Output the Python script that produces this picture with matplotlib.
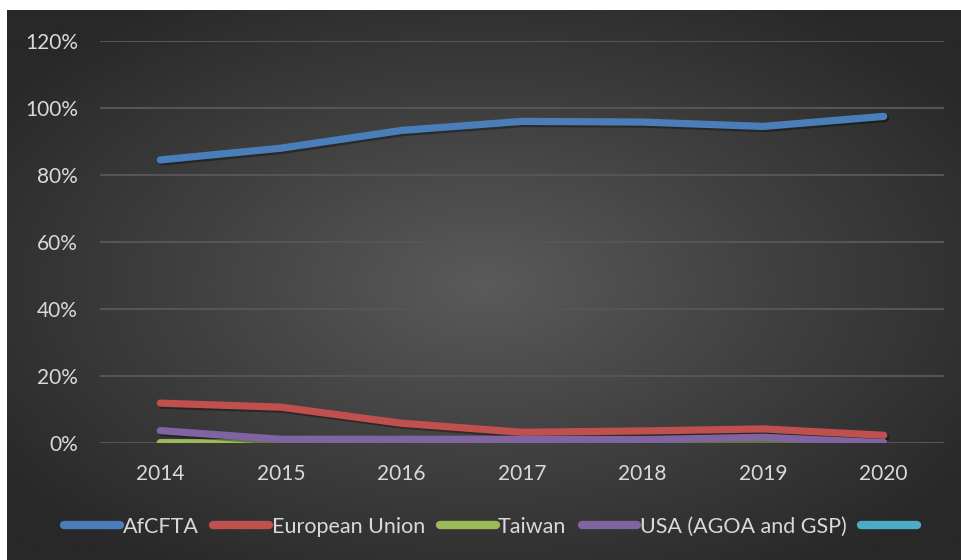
import numpy as np
import matplotlib

matplotlib.use("Agg")
import matplotlib.pyplot as plt  # noqa: E402
import matplotlib.patheffects as pe  # noqa: E402
from matplotlib.colors import LinearSegmentedColormap  # noqa: E402
from matplotlib.lines import Line2D  # noqa: E402
from matplotlib.ticker import PercentFormatter  # noqa: E402

plt.rcParams["font.family"] = ["Lato", "DejaVu Sans"]

years = ["2014", "2015", "2016", "2017", "2018", "2019", "2020"]
afcfta = [84.5, 88.0, 93.3, 96.0, 95.8, 94.5, 97.5]
european_union = [11.9, 10.7, 5.9, 3.2, 3.6, 4.2, 2.3]
taiwan = [0.1, 0.0, 0.0, 0.0, 0.0, 0.2, 0.0]
usa = [3.7, 1.1, 1.1, 1.1, 1.0, 1.7, 0.1]

series = [
    ("AfCFTA", afcfta, "#4a7ebb"),
    ("European Union", european_union, "#c0504d"),
    ("Taiwan", taiwan, "#9bbb59"),
    ("USA (AGOA and GSP)", usa, "#8064a2"),
    ("", [], "#4bacc6"),   # empty fifth series, legend key only
]

INK = "#d9d9d9"
W, H = 961, 560

fig = plt.figure(figsize=(W / 100, H / 100), dpi=100)
fig.patch.set_facecolor("white")

# radial dark-grey backdrop
bg = fig.add_axes([7 / W, 0, 1 - 7 / W, 1 - 10 / H])
bg.set_axis_off()
gx, gy = np.meshgrid(np.linspace(-1, 1, 480), np.linspace(-1, 1, 280))
r = np.clip(np.sqrt(gx ** 2 + gy ** 2) / 1.25, 0, 1)
cmap = LinearSegmentedColormap.from_list("bg", ["#5a5a5a", "#404040", "#282828"])
bg.imshow(r, cmap=cmap, aspect="auto", extent=(0, 1, 0, 1), interpolation="bilinear")

ax = fig.add_axes([100 / W, 1 - 443 / H, (944 - 100) / W, (443 - 41) / H])
ax.patch.set_alpha(0)

x = np.arange(len(years))
handles = []
for label, values, color in series:
    if values:
        ax.plot(x[: len(values)], values, color=color, linewidth=5.2,
                solid_capstyle="round", solid_joinstyle="round", zorder=3,
                path_effects=[pe.SimpleLineShadow(offset=(1.5, -1.5), shadow_color="black",
                                                  alpha=0.35), pe.Normal()])
    handles.append(Line2D([], [], color=color, linewidth=6, solid_capstyle="round",
                          label=label))

ax.set_xlim(-0.5, len(years) - 0.5)
ax.set_ylim(0, 120)
ax.set_yticks(np.arange(0, 121, 20))
ax.yaxis.set_major_formatter(PercentFormatter(decimals=0))
ax.set_xticks(x)
ax.set_xticklabels(years)
ax.yaxis.grid(True, color="#555555", linewidth=1.5)
ax.set_axisbelow(True)
for side in ("top", "right", "left", "bottom"):
    ax.spines[side].set_visible(False)
ax.tick_params(axis="y", length=0, pad=16, labelsize=15, colors=INK)
ax.tick_params(axis="x", length=0, pad=15, labelsize=15, colors=INK)

leg = fig.legend(handles=handles, loc="center", bbox_to_anchor=(492 / W, 1 - 527 / H),
                 ncol=5, frameon=False, fontsize=15.5, handlelength=2.6,
                 handletextpad=0.1, columnspacing=0.7)
for text in leg.get_texts():
    text.set_color(INK)

fig.savefig("out.png", dpi=100)
